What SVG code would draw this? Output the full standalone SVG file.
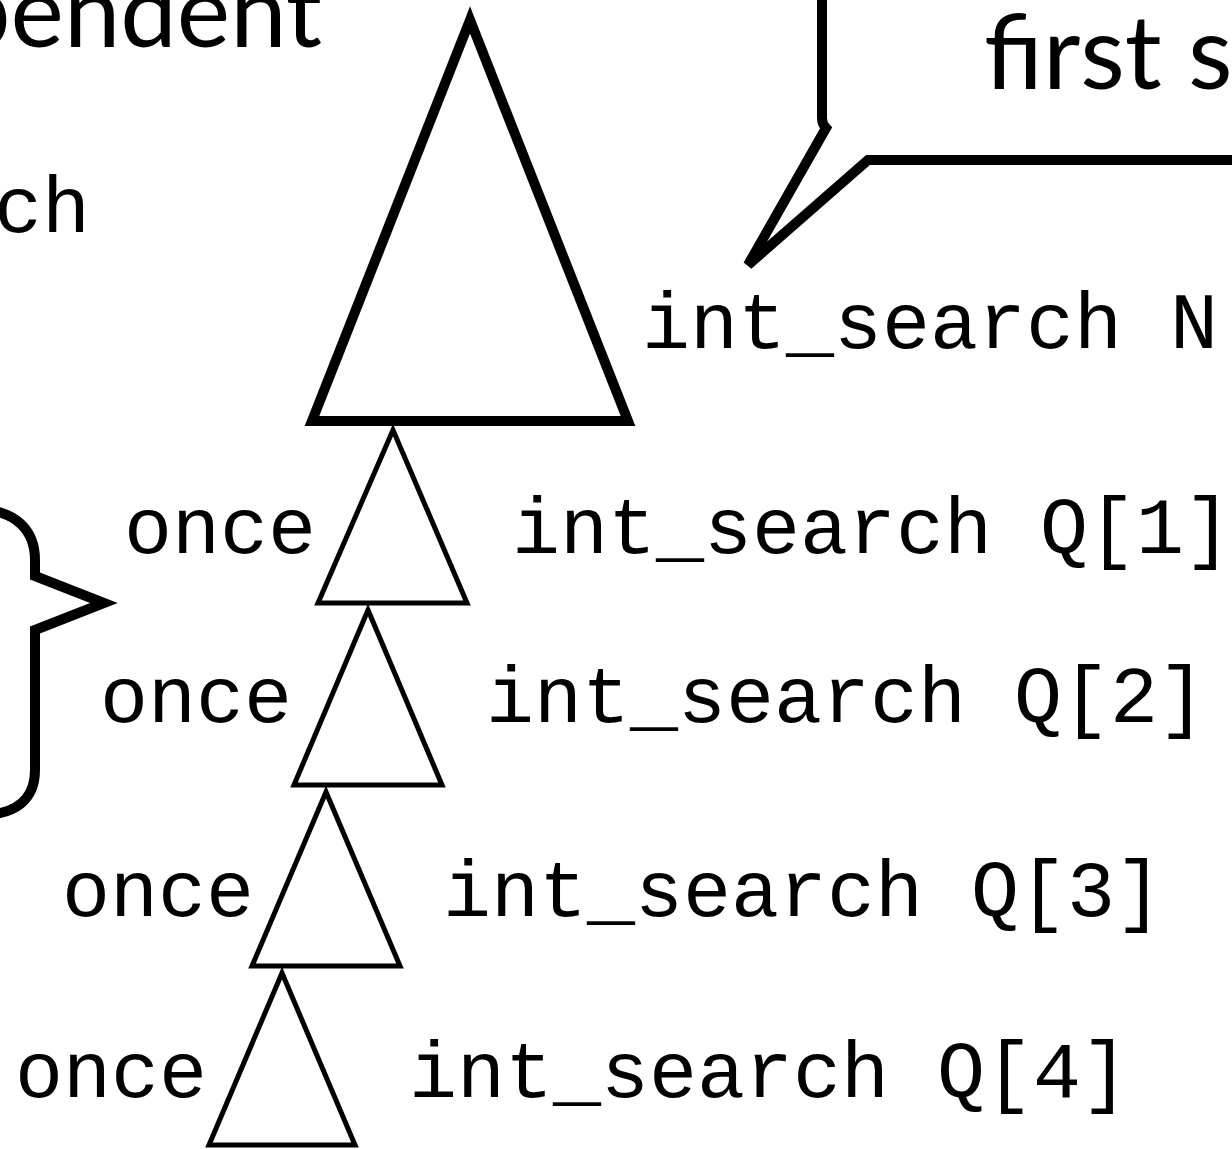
<svg xmlns="http://www.w3.org/2000/svg" width="1232" height="1149" viewBox="0 0 1232 1149">
  <style>
    .mono { font-family: "Liberation Mono", "Courier New", monospace; font-size: 80px; fill: #000; }
    .sans { font-family: Lato, "Open Sans", sans-serif; font-size: 101px; fill: #000; }
    .big { fill: #fff; stroke: #000; stroke-width: 10; stroke-linejoin: miter; }
    .small { fill: #fff; stroke: #000; stroke-width: 5; stroke-linejoin: miter; }
    .ink { fill: none; stroke: #000; stroke-width: 10; stroke-linejoin: miter; }
  </style>
  <rect width="1232" height="1149" fill="#fff"/>

  <!-- heading fragments -->
  <text class="sans" x="322" y="47" text-anchor="end">pendent</text>
  <text class="mono" x="-6" y="232">ch</text>

  <!-- callout bubble -->
  <g id="callout">
    <path class="ink" d="M 822 -10 V 118 Q 822 124 826 128 L 748 265 L 868 160 H 1240"/>
    <text class="sans" x="984" y="89" style="font-size:103px">first s</text>
  </g>

  <!-- brace grouping the once-searches -->
  <g id="brace">
    <path class="ink" d="M -20 510 C 15 510 35 530 35 560 V 576 L 104 603 L 35 630 V 770 C 35 800 15 815 -20 815"/>
  </g>

  <!-- main search tree -->
  <g id="root">
    <polygon class="big" points="470,20 312,421 628,421"/>
    <text class="mono" x="642" y="348">int_search N</text>
  </g>

  <g id="q1">
    <polygon class="small" points="393,430 318,603 467,603"/>
    <text class="mono" x="124" y="553">once</text>
    <text class="mono" x="512" y="553">int_search Q[1]</text>
  </g>

  <g id="q2">
    <polygon class="small" points="368,610 294,785 442,785"/>
    <text class="mono" x="100" y="722">once</text>
    <text class="mono" x="486" y="722">int_search Q[2]</text>
  </g>

  <g id="q3">
    <polygon class="small" points="326,792 252,966 400,966"/>
    <text class="mono" x="62" y="916">once</text>
    <text class="mono" x="443" y="916">int_search Q[3]</text>
  </g>

  <g id="q4">
    <polygon class="small" points="282,973 209,1145 355,1145"/>
    <text class="mono" x="15" y="1097">once</text>
    <text class="mono" x="409" y="1097">int_search Q[4]</text>
  </g>

  <g id="connectors"/>
</svg>
